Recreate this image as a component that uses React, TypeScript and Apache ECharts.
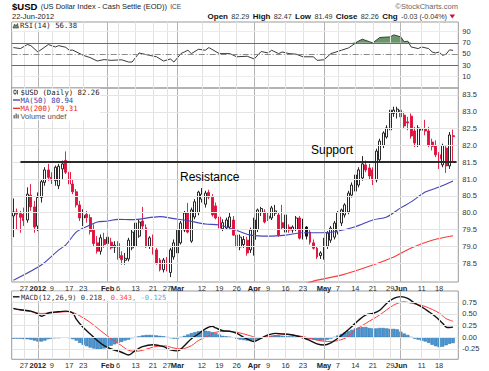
import React, { useEffect, useRef } from "react";
import * as echarts from "echarts";

// ---------------- data ----------------
const dates: string[] = [
  "2011-12-21", "2011-12-22", "2011-12-23", "2011-12-27", "2011-12-28", "2011-12-29", "2011-12-30",
  "2012-01-03", "2012-01-04", "2012-01-05", "2012-01-06", "2012-01-09", "2012-01-10", "2012-01-11", "2012-01-12", "2012-01-13",
  "2012-01-17", "2012-01-18", "2012-01-19", "2012-01-20", "2012-01-23", "2012-01-24", "2012-01-25", "2012-01-26", "2012-01-27",
  "2012-01-30", "2012-01-31",
  "2012-02-01", "2012-02-02", "2012-02-03", "2012-02-06", "2012-02-07", "2012-02-08", "2012-02-09", "2012-02-10", "2012-02-13",
  "2012-02-14", "2012-02-15", "2012-02-16", "2012-02-17", "2012-02-21", "2012-02-22", "2012-02-23", "2012-02-24", "2012-02-27",
  "2012-02-28", "2012-02-29",
  "2012-03-01", "2012-03-02", "2012-03-05", "2012-03-06", "2012-03-07", "2012-03-08", "2012-03-09", "2012-03-12", "2012-03-13",
  "2012-03-14", "2012-03-15", "2012-03-16", "2012-03-19", "2012-03-20", "2012-03-21", "2012-03-22", "2012-03-23", "2012-03-26",
  "2012-03-27", "2012-03-28", "2012-03-29", "2012-03-30",
  "2012-04-02", "2012-04-03", "2012-04-04", "2012-04-05", "2012-04-09", "2012-04-10", "2012-04-11", "2012-04-12", "2012-04-13",
  "2012-04-16", "2012-04-17", "2012-04-18", "2012-04-19", "2012-04-20", "2012-04-23", "2012-04-24", "2012-04-25", "2012-04-26",
  "2012-04-27", "2012-04-30",
  "2012-05-01", "2012-05-02", "2012-05-03", "2012-05-04", "2012-05-07", "2012-05-08", "2012-05-09", "2012-05-10", "2012-05-11",
  "2012-05-14", "2012-05-15", "2012-05-16", "2012-05-17", "2012-05-18", "2012-05-21", "2012-05-22", "2012-05-23", "2012-05-24",
  "2012-05-25", "2012-05-29", "2012-05-30", "2012-05-31",
  "2012-06-01", "2012-06-04", "2012-06-05", "2012-06-06", "2012-06-07", "2012-06-08", "2012-06-11", "2012-06-12", "2012-06-13",
  "2012-06-14", "2012-06-15", "2012-06-18", "2012-06-19", "2012-06-20", "2012-06-21", "2012-06-22",
];

const open: number[] = [
  79.90, 80.02, 79.97, 79.95, 79.78, 80.52, 80.17,
  79.60, 80.45, 80.90, 81.27, 81.05, 80.95, 80.80, 81.30, 81.55, 81.20, 80.85, 80.62, 80.23, 79.84, 79.95, 79.85, 79.50, 79.10, 78.85, 79.20,
  79.08, 79.12, 78.97, 79.08, 78.72, 78.58, 78.62, 78.95, 79.00, 79.30, 79.75, 79.55, 79.00, 79.24, 78.89, 78.59, 78.30, 78.55, 78.22, 78.68,
  78.80, 79.10, 79.48, 79.99, 79.15, 79.87, 80.00, 80.40, 80.25, 80.60, 80.46, 80.20, 79.87, 79.52, 79.54, 79.57, 79.78, 79.33, 78.98, 79.05, 79.18, 78.89,
  79.20, 79.50, 80.00, 80.02, 79.90, 79.84, 79.98, 79.93, 79.70, 79.42, 79.57, 79.48, 79.50, 79.84, 79.78, 79.57, 79.42, 79.10, 78.94, 78.72,
  78.68, 79.00, 79.18, 79.27, 79.42, 79.69, 79.93, 80.02, 80.52, 80.64, 80.82, 81.03, 81.42, 81.33, 81.27, 80.97, 81.57, 82.00, 82.25, 82.46, 82.95, 82.98,
  83.05, 82.90, 82.70, 82.87, 82.43, 82.00, 82.45, 82.50, 82.43, 82.10, 82.00, 81.72, 81.42, 81.92, 81.39, 82.29,
];
const high: number[] = [
  80.42, 80.12, 80.05, 80.15, 80.75, 80.85, 80.35,
  80.60, 81.00, 81.35, 81.45, 81.20, 81.40, 81.45, 81.55, 81.82, 81.35, 81.00, 80.70, 80.35, 80.10, 80.05, 79.95, 79.65, 79.30, 79.35, 79.40,
  79.35, 79.25, 79.15, 79.15, 78.85, 78.80, 79.25, 79.50, 79.75, 79.80, 80.17, 79.65, 79.30, 79.35, 78.95, 78.65, 78.65, 78.68, 78.95, 79.20,
  79.55, 79.75, 80.05, 80.29, 80.15, 80.40, 80.65, 80.73, 80.65, 80.68, 80.55, 80.30, 79.95, 79.80, 79.85, 80.00, 79.90, 79.45, 79.35, 79.30, 79.28, 79.55,
  79.85, 80.12, 80.17, 80.10, 80.00, 80.20, 80.23, 80.00, 80.23, 80.00, 79.65, 79.62, 79.90, 79.90, 79.82, 79.60, 79.48, 79.20, 79.00, 78.85,
  79.25, 79.45, 79.60, 79.75, 80.05, 80.12, 80.28, 80.65, 80.90, 81.20, 81.35, 81.68, 81.55, 81.45, 81.35, 81.90, 82.20, 82.42, 82.60, 83.10, 83.15, 83.15,
  83.56, 83.00, 82.85, 82.95, 82.55, 82.60, 82.62, 82.76, 82.55, 82.20, 82.15, 81.80, 82.05, 82.00, 82.40, 82.47,
];
const low: number[] = [
  79.27, 79.50, 79.40, 79.60, 79.70, 80.05, 79.40,
  79.45, 80.30, 80.80, 80.95, 80.85, 80.80, 80.70, 81.00, 81.15, 80.75, 80.55, 80.15, 79.75, 79.60, 79.70, 79.35, 79.00, 78.78, 78.75, 78.95,
  78.95, 78.90, 78.80, 78.60, 78.45, 78.45, 78.55, 78.88, 78.95, 79.25, 79.50, 78.95, 78.92, 78.75, 78.45, 78.25, 78.22, 78.25, 78.08, 78.60,
  78.72, 79.05, 79.42, 79.38, 79.10, 79.80, 79.92, 80.30, 80.15, 80.40, 79.88, 79.80, 79.50, 79.45, 79.48, 79.52, 79.30, 78.92, 78.88, 78.95, 78.72, 78.80,
  78.72, 79.42, 79.90, 79.68, 79.75, 79.78, 79.90, 79.28, 79.50, 79.35, 79.40, 79.40, 79.45, 79.20, 79.20, 79.20, 79.05, 78.90, 78.62, 78.62,
  78.60, 78.92, 79.10, 79.20, 79.35, 79.60, 79.85, 79.95, 80.45, 80.55, 80.75, 80.95, 81.20, 81.00, 80.82, 80.90, 81.50, 81.92, 82.20, 82.35, 82.85, 82.80,
  82.75, 82.50, 82.45, 82.20, 81.95, 81.95, 82.25, 82.30, 81.95, 81.85, 81.65, 81.30, 81.35, 81.18, 81.30, 81.49,
];
const close: number[] = [
  80.02, 79.95, 79.86, 79.76, 80.55, 80.17, 79.57,
  80.45, 80.92, 81.27, 81.05, 80.98, 81.35, 81.38, 81.45, 81.20, 80.85, 80.62, 80.23, 79.84, 79.92, 79.85, 79.44, 79.08, 78.85, 79.25, 79.05,
  79.27, 78.95, 79.03, 78.65, 78.60, 78.64, 79.18, 79.42, 79.69, 79.72, 79.60, 78.98, 79.25, 78.80, 78.50, 78.30, 78.59, 78.30, 78.89, 79.10,
  79.48, 79.69, 79.99, 79.42, 80.08, 80.32, 80.61, 80.55, 80.58, 80.46, 79.93, 79.84, 79.54, 79.70, 79.78, 79.87, 79.33, 78.98, 79.27, 79.20, 78.80, 79.48,
  79.78, 80.08, 80.12, 79.72, 79.82, 80.14, 80.05, 79.33, 79.55, 79.93, 79.48, 79.57, 79.84, 79.24, 79.27, 79.30, 79.12, 78.94, 78.68, 78.80,
  79.18, 79.39, 79.54, 79.69, 80.00, 80.08, 80.23, 80.58, 80.82, 81.12, 81.27, 81.45, 81.27, 81.09, 80.97, 81.83, 82.13, 82.37, 82.52, 83.05, 83.05, 83.08,
  82.85, 82.58, 82.67, 82.28, 82.07, 82.52, 82.50, 82.43, 82.00, 81.97, 81.72, 81.60, 82.00, 81.39, 82.31, 82.26,
];
// candles drawn black-filled (close < open but above previous close)
const blackFilledDates: string[] = ["2012-04-23", "2012-04-24"];

// moving averages read at points along the curves: [day index, value]
const ma50Points: [number, number][] = [
  [0, 77.99], [8, 78.44], [13, 78.89], [15, 79.04], [18, 79.42], [20, 79.54], [22, 79.63], [24, 79.72], [27, 79.75],
  [30, 79.8], [34, 79.79], [42, 79.88], [46, 79.82], [50, 79.76], [55, 79.66], [59, 79.63], [65, 79.43], [68, 79.33],
  [73, 79.3], [78, 79.33], [83, 79.4], [87, 79.4], [92, 79.43], [98, 79.58], [103, 79.78], [107, 79.87], [111, 80.14],
  [114, 80.32], [118, 80.61], [122, 80.76], [126, 80.94],
];
const ma200Points: [number, number][] = [
  [84, 77.9], [87, 77.99], [94, 78.14], [103, 78.44], [109, 78.68], [114, 78.95], [120, 79.18], [126, 79.31],
];

const rsiPoints: [number, number][] = [
  [0, 61.5], [2, 59.7], [4, 67], [5, 65], [7, 53.6], [10, 67], [12, 62.6], [13, 65], [15, 62], [16, 56.7], [17, 57],
  [20, 47.6], [22, 43.5], [24, 37.4], [26, 40], [28, 38.6], [31, 39.6], [33, 35.6], [34, 35.6], [36, 51.8], [39, 47.6],
  [41, 45], [43, 37.4], [45, 41], [46, 35.6], [48, 50.7], [50, 56.7], [51, 50.7], [53, 58.5], [55, 56.7], [56, 61.5],
  [59, 50.7], [62, 50.7], [64, 45], [67, 46], [69, 41], [71, 54.5], [73, 51.8], [74, 56.7], [76, 50.7], [77, 53.6],
  [79, 50.7], [81, 49.7], [83, 45], [86, 45], [87, 38.6], [89, 39.6], [91, 50.7], [94, 56.7], [96, 60.8], [97, 65],
  [99, 73.5], [100, 76.5], [102, 72], [103, 70], [105, 79.6], [108, 80.7], [109, 84.3], [111, 80.7], [112, 72],
  [113, 73], [114, 62.6], [116, 59.7], [117, 62.6], [119, 59.7], [120, 53.6], [121, 51.8], [122, 53.6], [123, 47.6],
  [124, 49.7], [125, 57.5], [126, 56.38],
];

const macdPoints: [number, number][] = [
  [0, 0.62], [2, 0.59], [5, 0.56], [7, 0.5], [8, 0.45], [10, 0.52], [12, 0.54], [15, 0.56], [17, 0.52], [18, 0.39],
  [20, 0.21], [22, 0.07], [24, -0.07], [26, -0.18], [28, -0.25], [31, -0.32], [33, -0.38], [35, -0.28], [37, -0.2],
  [40, -0.16], [43, -0.2], [45, -0.27], [47, -0.29], [49, -0.18], [51, -0.03], [53, 0.07], [55, 0.18], [57, 0.235],
  [58, 0.2], [60, 0.14], [62, 0.13], [64, 0.085], [66, 0.0], [68, -0.07], [69, -0.09], [71, -0.02], [73, 0.05],
  [75, 0.085], [78, 0.07], [80, 0.05], [83, -0.01], [85, -0.07], [87, -0.14], [89, -0.165], [91, -0.12], [93, -0.02],
  [95, 0.1], [97, 0.23], [99, 0.37], [101, 0.48], [103, 0.51], [105, 0.58], [107, 0.73], [109, 0.835], [111, 0.87],
  [113, 0.835], [115, 0.73], [117, 0.65], [119, 0.55], [121, 0.44], [123, 0.3], [124, 0.22], [125, 0.21], [126, 0.218],
];
const signalPoints: [number, number][] = [
  [0, 0.61], [5, 0.55], [8, 0.51], [16, 0.55], [19, 0.46], [22, 0.32], [25, 0.14], [28, -0.03], [31, -0.18], [33, -0.28],
  [35, -0.3], [37, -0.28], [40, -0.21], [43, -0.18], [46, -0.23], [48, -0.25], [51, -0.18], [53, -0.07], [56, 0.035],
  [58, 0.11], [61, 0.13], [64, 0.11], [68, 0.03], [70, -0.01], [73, 0.015], [78, 0.06], [83, 0.015], [87, -0.06],
  [90, -0.09], [93, -0.07], [96, 0.015], [98, 0.155], [101, 0.3], [105, 0.48], [109, 0.69], [112, 0.76], [114, 0.73],
  [118, 0.66], [122, 0.52], [124, 0.4], [126, 0.343],
];
const histValues: number[] = [
  -0.03, -0.03, -0.03, -0.04, -0.04,
  -0.05, -0.07, -0.09, -0.09, -0.07,
  -0.04, -0.03, -0.02, -0.02, -0.01, -0.01, -0.02, -0.04,
  -0.07, -0.12, -0.16, -0.19,
  -0.22, -0.24, -0.26, -0.26, -0.24,
  -0.2, -0.18, -0.15, -0.12, -0.1,
  -0.07, -0.05, -0.02, 0.0, 0.02,
  0.04, 0.05, 0.05, 0.05, 0.04, 0.03,
  0.02, 0.0, -0.02, -0.03, -0.03,
  0.0, 0.03, 0.06,
  0.09, 0.11, 0.13, 0.14, 0.14, 0.13,
  0.11, 0.09, 0.06,
  0.03, 0.02, 0.01, -0.01,
  -0.03, -0.05, -0.06, -0.07,
  -0.08, -0.07,
  -0.05, -0.02, 0.0,
  0.02, 0.03, 0.04, 0.04, 0.03, 0.03, 0.02, 0.02, 0.01,
  -0.01, -0.02, -0.03, -0.04, -0.05,
  -0.06, -0.07, -0.07, -0.05,
  -0.03, 0.0,
  0.04, 0.07, 0.1, 0.13,
  0.16, 0.19, 0.21, 0.22,
  0.22, 0.2, 0.19, 0.19, 0.2, 0.2,
  0.19, 0.18, 0.18, 0.17,
  0.12, 0.08, 0.05,
  0.0, -0.03, -0.05, -0.07,
  -0.09, -0.12, -0.16, -0.19, -0.21,
  -0.2, -0.17, -0.14, -0.125,
];

const tickDates: string[] = [
  "2011-12-27", "2012-01-03", "2012-01-09", "2012-01-17", "2012-01-23", "2012-02-01", "2012-02-06", "2012-02-13",
  "2012-02-21", "2012-02-27", "2012-03-01", "2012-03-12", "2012-03-19", "2012-03-26", "2012-04-02", "2012-04-09",
  "2012-04-16", "2012-04-23", "2012-05-01", "2012-05-07", "2012-05-14", "2012-05-21", "2012-05-29", "2012-06-01",
  "2012-06-11", "2012-06-18",
];
const tickTexts: string[] = [
  "27", "2012", "9", "17", "23", "Feb", "6", "13", "21", "27", "Mar", "12", "19", "26", "Apr", "9", "16", "23",
  "May", "7", "14", "21", "29", "Jun", "11", "18",
];
const boldTicks: string[] = ["2012", "Feb", "Mar", "Apr", "May", "Jun"];

const priceTicks: number[] = [78.5, 79.0, 79.5, 80.0, 80.5, 81.0, 81.5, 82.0, 82.5, 83.0, 83.5];
const rsiTicks: number[] = [10, 30, 50, 70, 90];
const macdTicks: number[] = [-0.25, 0, 0.25, 0.5, 0.75];
const supportLevel = 81.52;

// ---------------- chart ----------------
const SANS = "'Liberation Sans', Arial, sans-serif";
const MONO = "'DejaVu Sans Mono', monospace";

export default function App() {
  const ref = useRef<HTMLDivElement>(null);

  useEffect(() => {
    if (!ref.current) return;
    const chart = echarts.init(ref.current, undefined, { renderer: "svg" });

    const cats = [...dates, ""]; // one empty slot on the right edge
    const tickIdx = new Map<number, string>();
    tickDates.forEach((d, k) => tickIdx.set(dates.indexOf(d), tickTexts[k]));

    const L = 11.7;
    const W = 446.6;
    const grids = [
      { left: L, top: 22, width: W, height: 66 },
      { left: L, top: 88, width: W, height: 194 },
      { left: L, top: 291, width: W, height: 68.3 },
    ].map((g) => ({ ...g, show: true, borderColor: "#9a9a9a", borderWidth: 1, backgroundColor: "transparent", outerBoundsMode: "none", containLabel: false }));

    const xAxis = [0, 1, 2].map((k) => ({
      gridIndex: k,
      type: "category",
      data: cats,
      boundaryGap: true,
      axisLine: { show: false },
      axisTick: { show: false },
      splitLine: { show: false },
      axisLabel: {
        show: k > 0,
        interval: (i: number) => tickIdx.has(i),
        formatter: (_v: string, i: number) => {
          const t = tickIdx.get(i) || "";
          return boldTicks.includes(t) ? `{b|${t}}` : t;
        },
        fontFamily: SANS,
        fontSize: 7.5,
        color: "#333",
        margin: 2,
        hideOverlap: false,
        rich: { b: { fontFamily: SANS, fontSize: 7.5, fontWeight: "bold", color: "#222" } },
      },
    }));

    const yCommon = (k: number, min: number, max: number, ticks: number[], fmt: (v: number) => string) => ({
      gridIndex: k,
      type: "value",
      position: "right",
      min,
      max,
      scale: true,
      axisLine: { show: false },
      axisTick: { show: false, customValues: ticks },
      splitLine: { show: false },
      axisLabel: { customValues: ticks, formatter: fmt, fontFamily: SANS, fontSize: 7.5, color: "#333", margin: 4 },
    });
    const yAxis = [
      yCommon(0, -11, 107.4, rsiTicks, (v) => String(Math.round(v))),
      yCommon(1, 77.935, 83.708, priceTicks, (v) => v.toFixed(1)),
      yCommon(2, -0.471, 0.991, macdTicks, (v) => v.toFixed(2)),
    ];

    const vLines = tickDates.map((d, k) => ({
      xAxis: dates.indexOf(d),
      lineStyle: { color: boldTicks.includes(tickTexts[k]) ? "#b4b4b4" : "#e2e2e2", width: 1, type: "solid" },
    }));
    const hLines = (vals: number[], color = "#e4e4e4") =>
      vals.map((v) => ({ yAxis: v, lineStyle: { color, width: 1, type: "solid" } }));
    const gridSeries = (k: number, lines: any[]) => ({
      type: "line",
      xAxisIndex: k,
      yAxisIndex: k,
      data: [],
      z: 0,
      silent: true,
      markLine: { silent: true, symbol: ["none", "none"], label: { show: false }, animation: false, data: lines },
    });

    const candleData = dates.map((d, i) => {
      const v = [open[i], close[i], low[i], high[i]];
      return blackFilledDates.includes(d)
        ? { value: v, itemStyle: { color0: "#111", borderColor0: "#111" } }
        : v;
    });

    const rsiFill = rsiPoints.map(([i, v]) => [i, Math.max(v, 70)]);

    const legendBox = (x: number, y: number, w: number, h: number) => ({
      type: "rect", z: 100, silent: true, shape: { x, y, width: w, height: h }, style: { fill: "#ffffff" },
    });

    const option: any = {
      animation: false,
      backgroundColor: "#fff",
      grid: grids,
      xAxis,
      yAxis,
      series: [
        // ---- RSI panel ----
        gridSeries(0, [
          ...vLines,
          ...hLines([90, 10], "#ececec"),
          { yAxis: 50, lineStyle: { color: "#8a8a8a", width: 1, type: [6, 2, 1, 2] } },
          { yAxis: 70, lineStyle: { color: "#6a6a6a", width: 1, type: "solid" } },
          { yAxis: 30, lineStyle: { color: "#6a6a6a", width: 1, type: "solid" } },
        ]),
        {
          type: "line", xAxisIndex: 0, yAxisIndex: 0, data: rsiFill, symbol: "none", z: 2, silent: true,
          lineStyle: { width: 0, opacity: 0 },
          areaStyle: { color: "#6a976a", opacity: 1, origin: 70 },
        },
        {
          type: "line", xAxisIndex: 0, yAxisIndex: 0, data: rsiPoints, symbol: "none", z: 3, silent: true,
          lineStyle: { color: "#3a3a3a", width: 1 },
        },
        // ---- price panel ----
        gridSeries(1, [...vLines, ...hLines(priceTicks)]),
        {
          type: "candlestick", xAxisIndex: 1, yAxisIndex: 1, data: candleData, barWidth: 2.4, z: 2, silent: true,
          itemStyle: { color: "#ffffff", color0: "#e0103a", borderColor: "#111", borderColor0: "#e0103a", borderWidth: 0.9 },
          markLine: {
            silent: true, symbol: ["none", "none"], label: { show: false },
            lineStyle: { color: "#2b2b2b", width: 2.2, type: "solid" },
            data: [[{ coord: [2, supportLevel] }, { coord: [127, supportLevel] }]],
          },
        },
        {
          type: "line", xAxisIndex: 1, yAxisIndex: 1, data: ma50Points, symbol: "none", smooth: 0.3, z: 4, silent: true,
          lineStyle: { color: "#4646b8", width: 1.1 },
        },
        {
          type: "line", xAxisIndex: 1, yAxisIndex: 1, data: ma200Points, symbol: "none", smooth: 0.3, z: 4, silent: true, clip: true,
          lineStyle: { color: "#ff3a3a", width: 1.1 },
        },
        // ---- MACD panel ----
        gridSeries(2, [...vLines, ...hLines(macdTicks)]),
        {
          type: "bar", xAxisIndex: 2, yAxisIndex: 2, data: histValues, barWidth: "96%", z: 2, silent: true,
          itemStyle: { color: "#4a96d2", borderColor: "#2c6ea6", borderWidth: 0.5 },
        },
        {
          type: "line", xAxisIndex: 2, yAxisIndex: 2, data: signalPoints, symbol: "none", smooth: 0.3, z: 3, silent: true,
          lineStyle: { color: "#ff3b3b", width: 1 },
        },
        {
          type: "line", xAxisIndex: 2, yAxisIndex: 2, data: macdPoints, symbol: "none", smooth: 0.3, z: 4, silent: true,
          lineStyle: { color: "#111", width: 1.4 },
        },
      ],
      graphic: [
        // header
        {
          type: "text", x: 12, y: 6.5, z: 101,
          style: {
            text: "{t|$USD} {s|(US Dollar Index - Cash Settle (EOD))} {g|ICE}",
            verticalAlign: "middle",
            rich: {
              t: { fontFamily: SANS, fontSize: 9.5, fontWeight: "bold", fill: "#000" },
              s: { fontFamily: SANS, fontSize: 7.5, fill: "#222" },
              g: { fontFamily: SANS, fontSize: 6.5, fill: "#444" },
            },
          },
        },
        { type: "text", x: 12, y: 16, z: 101, style: { text: "22-Jun-2012", font: `7.5px ${SANS}`, fill: "#222", verticalAlign: "middle" } },
        { type: "text", x: 458, y: 6.5, z: 101, style: { text: "©StockCharts.com", font: `7.5px ${SANS}`, fill: "#666", align: "right", verticalAlign: "middle" } },
        {
          type: "text", x: 447, y: 16, z: 101,
          style: {
            text: "{b|Open} {v|82.29} {b|High} {v|82.47} {b|Low} {v|81.49} {b|Close} {v|82.26} {b|Chg} {v|-0.03 (-0.04%)}",
            align: "right", verticalAlign: "middle",
            rich: {
              b: { fontFamily: SANS, fontSize: 8, fontWeight: "bold", fill: "#111" },
              v: { fontFamily: SANS, fontSize: 7.2, fill: "#333" },
            },
          },
        },
        { type: "polygon", z: 101, shape: { points: [[449.5, 14.5], [455, 14.5], [452.25, 18.5]] }, style: { fill: "#d01030" } },
        // RSI legend
        legendBox(12.3, 22.6, 65, 8),
        {
          type: "polygon", z: 101,
          shape: { points: [[13, 28], [14.5, 24], [16, 26], [17.5, 23.5], [18.5, 28]] },
          style: { fill: "#6a976a", stroke: "#333", lineWidth: 0.6 },
        },
        { type: "text", x: 20, y: 25.8, z: 101, style: { text: "RSI(14) 56.38", font: `7.3px ${MONO}`, fill: "#222", verticalAlign: "middle" } },
        // price legend
        legendBox(12.3, 88.6, 88, 32),
        { type: "line", z: 101, shape: { x1: 15, y1: 89.5, x2: 15, y2: 95 }, style: { stroke: "#333", lineWidth: 0.8 } },
        { type: "rect", z: 101, shape: { x: 13.8, y: 90.5, width: 2.4, height: 3 }, style: { fill: "#fff", stroke: "#333", lineWidth: 0.7 } },
        { type: "line", z: 101, shape: { x1: 17.5, y1: 90, x2: 17.5, y2: 94.5 }, style: { stroke: "#333", lineWidth: 0.8 } },
        { type: "text", x: 20.5, y: 92.3, z: 101, style: { text: "$USD (Daily) 82.26", font: `7.3px ${MONO}`, fill: "#222", verticalAlign: "middle" } },
        { type: "line", z: 101, shape: { x1: 13, y1: 100, x2: 20, y2: 100 }, style: { stroke: "#3a3aa8", lineWidth: 1.3 } },
        { type: "text", x: 20.5, y: 100.2, z: 101, style: { text: "MA(50) 80.94", font: `7.3px ${MONO}`, fill: "#3a3aa8", verticalAlign: "middle" } },
        { type: "line", z: 101, shape: { x1: 13, y1: 108.3, x2: 20, y2: 108.3 }, style: { stroke: "#ee2222", lineWidth: 1.3 } },
        { type: "text", x: 20.5, y: 108.4, z: 101, style: { text: "MA(200) 79.31", font: `7.3px ${MONO}`, fill: "#ee2222", verticalAlign: "middle" } },
        { type: "rect", z: 101, shape: { x: 13.5, y: 115, width: 1.3, height: 3.5 }, style: { fill: "#666" } },
        { type: "rect", z: 101, shape: { x: 15.5, y: 113.5, width: 1.3, height: 5 }, style: { fill: "#666" } },
        { type: "rect", z: 101, shape: { x: 17.5, y: 114.5, width: 1.3, height: 4 }, style: { fill: "#666" } },
        { type: "text", x: 20.5, y: 116.4, z: 101, style: { text: "Volume undef", font: `7.5px ${SANS}`, fill: "#555", verticalAlign: "middle" } },
        // annotations
        { type: "text", x: 180, y: 176.5, z: 101, style: { text: "Resistance", font: `12px ${SANS}`, fill: "#000", verticalAlign: "middle" } },
        { type: "text", x: 311, y: 150, z: 101, style: { text: "Support", font: `12px ${SANS}`, fill: "#000", verticalAlign: "middle" } },
        // MACD legend
        legendBox(12.3, 291.6, 156, 9.5),
        { type: "line", z: 101, shape: { x1: 13, y1: 296.8, x2: 19.5, y2: 296.8 }, style: { stroke: "#111", lineWidth: 1.4 } },
        {
          type: "text", x: 21, y: 297, z: 101,
          style: {
            text: "{k|MACD(12,26,9) 0.218}{r|, 0.343}{c|, -0.125}",
            verticalAlign: "middle",
            rich: {
              k: { fontFamily: MONO, fontSize: 7.1, fill: "#333" },
              r: { fontFamily: MONO, fontSize: 7.1, fill: "#ff3b3b" },
              c: { fontFamily: MONO, fontSize: 7.1, fill: "#5aa6dc" },
            },
          },
        },
      ],
    };

    chart.setOption(option);
    return () => chart.dispose();
  }, []);

  return (
    <div
      ref={ref}
      style={{ position: "fixed", left: 0, top: 0, width: 489, height: 371, background: "#fff" }}
    />
  );
}
